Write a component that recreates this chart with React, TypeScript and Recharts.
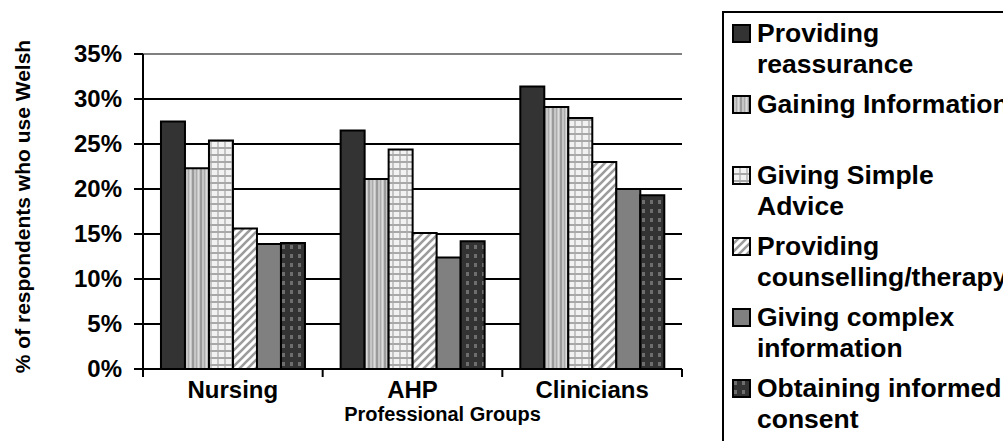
import React from 'react';
import { BarChart, Bar, XAxis, YAxis, CartesianGrid, ReferenceLine } from 'recharts';

// Professional groups on the x axis
const categories = ['Nursing', 'AHP', 'Clinicians'];

// % of respondents who use Welsh for each activity
const reassurance = [27.5, 26.5, 31.4];
const gainingInfo = [22.3, 21.1, 29.1];
const simpleAdvice = [25.4, 24.4, 27.9];
const counselling = [15.6, 15.1, 23.0];
const complexInfo = [13.9, 12.4, 20.0];
const consent = [14.0, 14.2, 19.3];

const seriesNames = [
  'Providing reassurance',
  'Gaining Information',
  'Giving Simple Advice',
  'Providing counselling/therapy',
  'Giving complex information',
  'Obtaining informed consent',
];

// legend text broken over two lines each
const legendLines = [
  ['Providing', 'reassurance'],
  ['Gaining Information', ''],
  ['Giving Simple', 'Advice'],
  ['Providing', 'counselling/therapy'],
  ['Giving complex', 'information'],
  ['Obtaining informed', 'consent'],
];

const yTicks = [0, 5, 10, 15, 20, 25, 30, 35];

const seriesValues = [reassurance, gainingInfo, simpleAdvice, counselling, complexInfo, consent];
const data = categories.map((group, i) => {
  const row: Record<string, string | number> = { group };
  seriesValues.forEach((vals, s) => {
    row[`s${s}`] = vals[i];
  });
  return row;
});

const fills = [
  '#333333',
  'url(#stripesV)',
  'url(#plaid)',
  'url(#diag)',
  '#808080',
  'url(#checks)',
];

const FONT = "'Liberation Sans', Arial, Helvetica, sans-serif";
const W = 1003;
const H = 441;
const M = { top: 54, right: 321, bottom: 0, left: 0 };
const Y_AXIS_W = 143;
const X_AXIS_H = 72;
const PLOT_W = W - M.left - M.right - Y_AXIS_W;
const BAND = PLOT_W / categories.length;

const Patterns = () => (
  <defs>
    <pattern id="stripesV" width="8" height="8" patternUnits="userSpaceOnUse">
      <rect width="8" height="8" fill="#c6c6c6" />
      <rect x="0" width="2" height="8" fill="#9a9a9a" />
      <rect x="4" width="1" height="8" fill="#ababab" />
      <rect x="6" width="1" height="8" fill="#dcdcdc" />
    </pattern>
    <pattern id="plaid" width="7" height="7" patternUnits="userSpaceOnUse">
      <rect width="7" height="7" fill="#f2f2f2" />
      <rect x="0" width="2" height="7" fill="#c4c4c4" />
      <rect y="0" width="7" height="2" fill="#a8a8a8" />
    </pattern>
    <pattern id="diag" width="8" height="8" patternUnits="userSpaceOnUse">
      <rect width="8" height="8" fill="#ffffff" />
      <path d="M-2,10 L10,-2 M-2,2 L2,-2 M6,10 L10,6" stroke="#9c9c9c" strokeWidth="2.6" />
    </pattern>
    <pattern id="checks" width="8" height="9" patternUnits="userSpaceOnUse">
      <rect width="8" height="9" fill="#333333" />
      <rect x="2" y="2" width="3" height="4" fill="#6e6e6e" />
    </pattern>
  </defs>
);

const CategoryTick = (props: any) => {
  const { x, payload, index } = props;
  const axisY = H - X_AXIS_H;
  return (
    <g>
      <line x1={x - BAND / 2} x2={x - BAND / 2} y1={axisY} y2={axisY + 8} stroke="#000" strokeWidth={2} />
      {index === categories.length - 1 && (
        <line x1={x + BAND / 2} x2={x + BAND / 2} y1={axisY} y2={axisY + 8} stroke="#000" strokeWidth={2} />
      )}
      <text x={x} y={398} textAnchor="middle" fontFamily={FONT} fontWeight="bold" fontSize={24} fill="#000">
        {payload.value}
      </text>
    </g>
  );
};

const ValueTick = (props: any) => {
  const { x, y, payload } = props;
  return (
    <text x={x} y={y} dy={8} textAnchor="end" fontFamily={FONT} fontWeight="bold" fontSize={24} fill="#000">
      {`${payload.value}%`}
    </text>
  );
};

const Legend = () => (
  <div
    style={{
      position: 'absolute',
      left: 722,
      top: 11,
      width: 400,
      height: 500,
      border: '2px solid #000',
      boxSizing: 'border-box',
      paddingTop: 5,
      fontFamily: FONT,
      fontWeight: 'bold',
      fontSize: 26.5,
      lineHeight: '31px',
      whiteSpace: 'nowrap',
      color: '#000',
    }}
  >
    {legendLines.map((lines, i) => (
      <div key={seriesNames[i]} style={{ position: 'relative', height: 62, marginBottom: 9, paddingLeft: 33 }}>
        <svg width={19} height={19} style={{ position: 'absolute', left: 8, top: 6 }}>
          <rect x={1} y={1} width={17} height={17} fill={fills[i]} stroke="#000" strokeWidth={2} />
        </svg>
        <div>{lines[0]}</div>
        <div>{lines[1] || '\u00a0'}</div>
      </div>
    ))}
  </div>
);

export default function App() {
  return (
    <div style={{ position: 'absolute', left: 0, top: 0, width: W, height: H, overflow: 'hidden', background: '#fff' }}>
      <BarChart width={W} height={H} data={data} margin={M} barCategoryGap="10%" barGap={0}>
        <Patterns />
        <CartesianGrid vertical={false} stroke="#000" strokeWidth={2} />
        <XAxis
          dataKey="group"
          height={X_AXIS_H}
          tickLine={false}
          axisLine={{ stroke: '#000', strokeWidth: 2 }}
          tick={<CategoryTick />}
          interval={0}
          label={{
            content: (p: any) => {
              const vb = p.viewBox;
              return (
                <text
                  x={vb.x + vb.width / 2 + 30}
                  y={vb.y + 52}
                  textAnchor="middle"
                  fontFamily={FONT}
                  fontWeight="bold"
                  fontSize={20}
                  fill="#000"
                >
                  Professional Groups
                </text>
              );
            },
          }}
        />
        <YAxis
          width={Y_AXIS_W}
          domain={[0, 35]}
          ticks={yTicks}
          interval={0}
          tickSize={9}
          tickMargin={12}
          tickLine={{ stroke: '#000', strokeWidth: 2 }}
          axisLine={{ stroke: '#000', strokeWidth: 2 }}
          tick={<ValueTick />}
          label={{
            content: (p: any) => {
              const vb = p.viewBox;
              const cy = vb.y + vb.height / 2 - 5;
              return (
                <text
                  x={22}
                  y={cy}
                  transform={`rotate(-90, 22, ${cy})`}
                  textAnchor="middle"
                  dominantBaseline="central"
                  fontFamily={FONT}
                  fontWeight="bold"
                  fontSize={21}
                  fill="#000"
                >
                  % of respondents who use Welsh
                </text>
              );
            },
          }}
        />
        <YAxis yAxisId="frame" orientation="right" width={0} tick={false} tickLine={false} axisLine={{ stroke: '#808080', strokeWidth: 2 }} />
        <ReferenceLine y={35} stroke="#808080" strokeWidth={2} />
        {seriesNames.map((name, i) => (
          <Bar
            key={name}
            dataKey={`s${i}`}
            name={name}
            fill={fills[i]}
            stroke="#000"
            strokeWidth={2}
            isAnimationActive={false}
          />
        ))}
      </BarChart>
      <Legend />
    </div>
  );
}
